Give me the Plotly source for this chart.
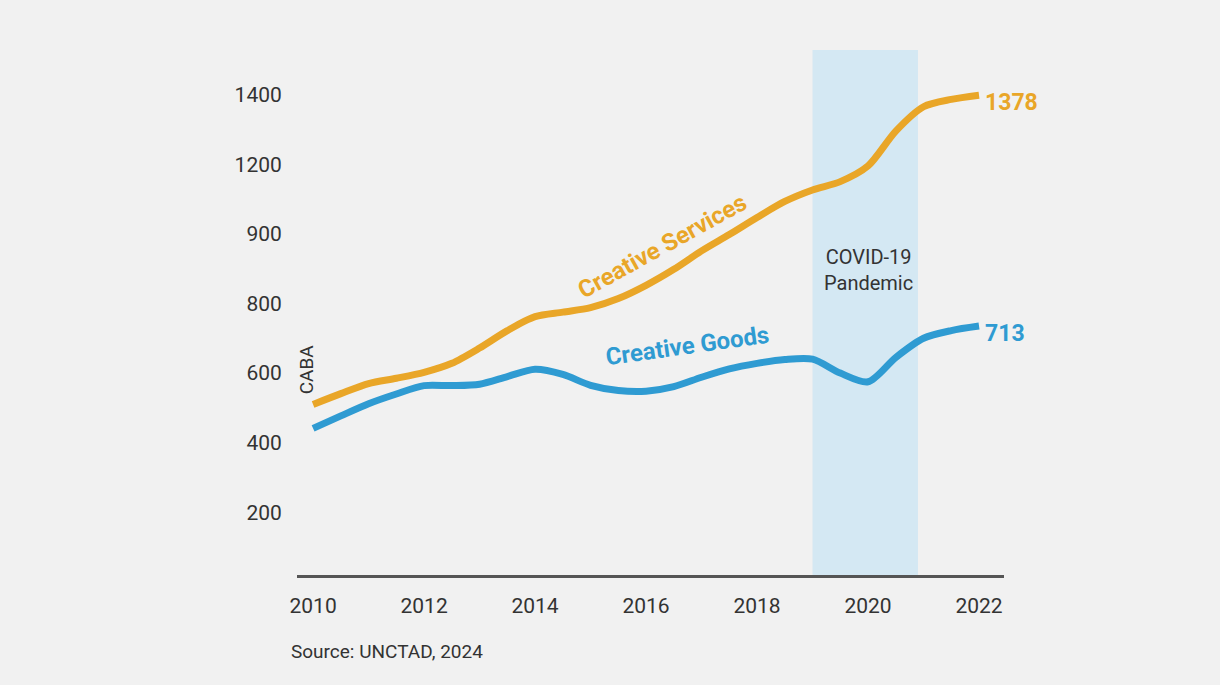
import plotly.graph_objects as go

years = [2010.0, 2010.5, 2011.0, 2011.5, 2012.0, 2012.5, 2013.0, 2013.5, 2014.0, 2014.5,
         2015.0, 2015.5, 2016.0, 2016.5, 2017.0, 2017.5, 2018.0, 2018.5, 2019.0, 2019.5,
         2020.0, 2020.5, 2021.0, 2021.5, 2022.0]
services = [510, 541, 570, 585, 602, 628, 672, 722, 762, 775,
            788, 814, 852, 898, 951, 998, 1047, 1093, 1126, 1150,
            1195, 1295, 1365, 1386, 1398]
goods = [441, 477, 512, 540, 564, 564, 568, 590, 611, 596,
         565, 550, 548, 561, 588, 612, 628, 639, 640, 600,
         575, 645, 700, 722, 735]

x_ticks = [2010, 2012, 2014, 2016, 2018, 2020, 2022]
y_tickvals = [200, 400, 600, 800, 1000, 1200, 1400]
y_ticktext = ["200", "400", "600", "800", "900", "1200", "1400"]

covid_start, covid_end = 2019.0, 2020.9
services_end_label = "1378"
goods_end_label = "713"

ORANGE = "#e9a628"
BLUE = "#2f9bd2"
TEXT = "#333333"
BG = "#f1f1f1"
FONT = "Roboto"

fig = go.Figure()
fig.add_trace(go.Scatter(x=years, y=services, mode="lines",
                         line=dict(color=ORANGE, width=7, shape="spline", smoothing=0.8),
                         hoverinfo="skip", showlegend=False))
fig.add_trace(go.Scatter(x=years, y=goods, mode="lines",
                         line=dict(color=BLUE, width=7, shape="spline", smoothing=0.8),
                         hoverinfo="skip", showlegend=False))

fig.add_shape(type="rect", xref="x", yref="paper", x0=covid_start, x1=covid_end,
              y0=0, y1=1, fillcolor="#d4e8f3", line=dict(width=0), layer="below")

ann = []
ann.append(dict(x=2020.0, y=897, xref="x", yref="y", text="COVID-19<br>Pandemic",
                showarrow=False, font=dict(family=FONT, size=20, color=TEXT)))
ann.append(dict(x=2016.3, y=965, xref="x", yref="y", text="<b>Creative Services</b>",
                showarrow=False, textangle=-29, font=dict(family=FONT, size=24, color=ORANGE)))
ann.append(dict(x=2016.74, y=677, xref="x", yref="y", text="<b>Creative Goods</b>",
                showarrow=False, textangle=-8, font=dict(family=FONT, size=24, color=BLUE)))
ann.append(dict(x=years[-1], y=1378, xref="x", yref="y", text="<b>" + services_end_label + "</b>",
                showarrow=False, xanchor="left", xshift=4, font=dict(family=FONT, size=23, color=ORANGE)))
ann.append(dict(x=years[-1], y=713, xref="x", yref="y", text="<b>" + goods_end_label + "</b>",
                showarrow=False, xanchor="left", xshift=4, font=dict(family=FONT, size=23, color=BLUE)))
ann.append(dict(x=2009.88, y=612, xref="x", yref="y", text="CABA", textangle=-90,
                showarrow=False, font=dict(family=FONT, size=19, color=TEXT)))
ann.append(dict(x=-0.011, y=-0.145, xref="paper", yref="paper", text="Source: UNCTAD, 2024",
                showarrow=False, xanchor="left", yanchor="middle",
                font=dict(family=FONT, size=19, color=TEXT)))

fig.update_layout(
    width=1220, height=685,
    margin=dict(l=297, r=216, t=50, b=110),
    paper_bgcolor=BG, plot_bgcolor=BG,
    annotations=ann,
    xaxis=dict(range=[2009.71, 2022.45], tickvals=x_ticks, showgrid=False, zeroline=False,
               showline=True, linecolor="#555555", linewidth=3,
               ticks="outside", ticklen=10, tickcolor="rgba(0,0,0,0)",
               tickfont=dict(family=FONT, size=21, color=TEXT)),
    yaxis=dict(range=[20, 1528], tickvals=y_tickvals, ticktext=y_ticktext,
               showgrid=False, zeroline=False, showline=False,
               ticks="outside", ticklen=10, tickcolor="rgba(0,0,0,0)",
               tickfont=dict(family=FONT, size=21, color=TEXT)),
)

fig.write_html("out.html")
